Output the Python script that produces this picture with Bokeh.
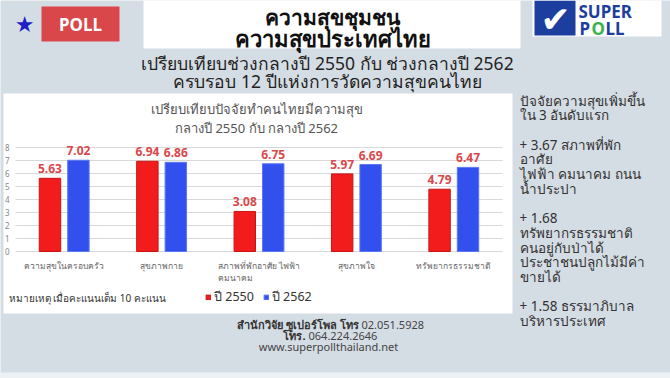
from bokeh.plotting import figure
from bokeh.models import (ColumnDataSource, Label, LabelSet, BoxAnnotation, Legend,
                          LegendItem, Range1d)
from bokeh.transform import dodge
from bokeh.core.properties import value
from bokeh.embed import file_html
from bokeh.resources import INLINE

# ---------------- data ----------------
categories = ["ความสุขในครอบครัว", "สุขภาพกาย", "สภาพที่พักอาศัย ไฟฟ้า\nคมนาคม",
              "สุขภาพใจ", "ทรัพยากรธรรมชาติ"]
score_2550 = [5.63, 6.94, 3.08, 5.97, 4.79]
score_2562 = [7.02, 6.86, 6.75, 6.69, 6.47]
series_names = ["ปี 2550", "ปี 2562"]
y_ticks = [0, 1, 2, 3, 4, 5, 6, 7, 8]

header_lines = ["ความสุขชุมชน", "ความสุขประเทศไทย"]
subtitle_lines = ["เปรียบเทียบช่วงกลางปี 2550 กับ ช่วงกลางปี 2562",
                  "ครบรอบ 12 ปีแห่งการวัดความสุขคนไทย"]
chart_title_lines = ["เปรียบเทียบปัจจัยทำคนไทยมีความสุข", "กลางปี 2550 กับ กลางปี 2562"]
note_text = "หมายเหตุ เมื่อคะแนนเต็ม 10 คะแนน"
side_lines = ["ปัจจัยความสุขเพิ่มขึ้น", "ใน 3 อันดับแรก", "",
              "+ 3.67 สภาพที่พัก", "อาศัย", "ไฟฟ้า คมนาคม ถนน", "น้ำประปา", "",
              "+ 1.68", "ทรัพยากรธรรมชาติ", "คนอยู่กับป่าได้", "ประชาชนปลูกไม้มีค่า", "ขายได้", "",
              "+ 1.58 ธรรมาภิบาล", "บริหารประเทศ"]

# ---------------- layout ----------------
W, H = 670, 378
FL, FR, FT, FB = 15, 502, 147, 251   # chart plot area in page pixels (top-down)
FONT = "Noto Sans"
RED, BLUE = "#f21c1c", "#3150ee"
n = len(categories)
ymax = y_ticks[-1]
ux = (FR - FL) / n
uy = (FB - FT) / ymax

p = figure(width=W, height=H,
           x_range=Range1d(-FL / ux, n + (W - FR) / ux),
           y_range=Range1d(-(H - FB) / uy, ymax + FT / uy),
           output_backend="svg", toolbar_location=None,
           min_border=0, x_axis_type=None, y_axis_type=None)
p.border_fill_color = "#d5dde4"
p.background_fill_color = "#d5dde4"
p.outline_line_color = None
p.grid.visible = False


def sx(X):
    return X


def sy(Y):
    return H - Y


def box(l, r, t, b, color, level="image"):
    p.add_layout(BoxAnnotation(left=sx(l), right=sx(r), top=sy(t), bottom=sy(b),
                               left_units="screen", right_units="screen",
                               top_units="screen", bottom_units="screen",
                               fill_color=color, fill_alpha=1, line_color=None,
                               level=level))


def lab(X, Y, text, size, color="#222", align="center", style="normal", font=FONT):
    p.add_layout(Label(x=sx(X), y=sy(Y), x_units="screen", y_units="screen", text=text,
                       text_align=align, text_baseline="middle", text_font=font,
                       text_font_size=f"{size}px", text_color=color, text_font_style=style))


# background panels
box(-5, 700, 372, 400, "#eef1f3")
box(3, 512, 93, 313, "white")
box(143, 520, -5, 48, "white")
box(41, 119, 6, 41, "#d9474b")
box(532, 661, -2, 36, "white")
box(534, 575, 0, 35, "#1c3e9e")

# chart data source
xpos = [i + 0.5 for i in range(n)]
src = ColumnDataSource(dict(x=xpos, cat=categories, a=score_2550, b=score_2562,
                            la=["%.2f" % v for v in score_2550],
                            lb=["%.2f" % v for v in score_2562]))
tick_src = ColumnDataSource(dict(y=y_ticks, t=[str(t) for t in y_ticks],
                                 x0=[0] * len(y_ticks), x1=[n] * len(y_ticks)))

# grid lines
p.segment(x0="x0", x1="x1", y0="y", y1="y", source=tick_src, line_color="#d9d9d9",
          line_width=1)

# bars
off = 0.146
r1 = p.vbar(x=dodge("x", -off), top="a", width=0.22, source=src,
            fill_color=RED, line_color="#c81414")
r2 = p.vbar(x=dodge("x", off), top="b", width=0.22, source=src,
            fill_color=BLUE, line_color="#5b78f2")

for col, ycol, o in (("la", "a", -off), ("lb", "b", off)):
    p.add_layout(LabelSet(x=dodge("x", o), y=ycol, text=col, source=src,
                          y_offset=5, text_align="center", text_baseline="bottom",
                          text_font=value(FONT), text_font_size="12px",
                          text_font_style="bold", text_color="#d8484c"))

# y tick labels
p.add_layout(LabelSet(x="x0", y="y", text="t", source=tick_src, x_offset=-6,
                      text_align="right", text_baseline="middle",
                      text_font=value(FONT), text_font_size="8px", text_color="#888"))
# category labels
p.add_layout(LabelSet(x="x", y=0, text="cat", source=src, y_offset=-8,
                      text_align="center", text_baseline="top", text_line_height=1.15,
                      text_font=value(FONT), text_font_size="8.5px", text_color="#666"))

# legend
legend = Legend(items=[LegendItem(label=series_names[0], renderers=[r1]),
                       LegendItem(label=series_names[1], renderers=[r2])],
                orientation="horizontal", location=(sx(205), sy(307)),
                glyph_width=6, glyph_height=6, label_text_font_size="12.5px",
                label_text_font=FONT, label_text_color="#333", padding=0, spacing=9,
                label_standoff=3, background_fill_alpha=0, border_line_alpha=0, margin=0)
p.add_layout(legend)

# texts
lab(24, 24, "★", 22, "#1f1fc4", font="DejaVu Sans")
lab(80, 24, "POLL", 17, "white", style="bold")
lab(555, 19, "✔", 36, "white", font="DejaVu Sans")
lab(578, 11, "SUPER", 17, "#1c3e9e", align="left", style="bold")
lab(579, 28, "P", 17, "#1c3e9e", align="left", style="bold")
lab(591, 28, "O", 17, "#3bb34a", align="left", style="bold")
lab(605, 28, "LL", 17, "#1c3e9e", align="left", style="bold")

lab(332, 16, header_lines[0], 21, "#111", style="bold")
lab(332, 37, header_lines[1], 22, "#111", style="bold")
lab(327, 62, subtitle_lines[0], 17.5, "#222")
lab(327, 80, subtitle_lines[1], 17.5, "#222")
lab(256, 108, chart_title_lines[0], 13, "#555")
lab(256, 127, chart_title_lines[1], 13, "#555")
lab(8, 297, note_text, 10, "#333", align="left")

lab(358, 324, "สำนักวิจัย ซูเปอร์โพล โทร", 11, "#333", align="right", style="bold")
lab(361, 324, "02.051.5928", 11, "#444", align="left")
lab(305, 335, "โทร.", 11, "#333", align="right", style="bold")
lab(308, 335, "064.224.2646", 11, "#444", align="left")
lab(328, 346, "www.superpollthailand.net", 11, "#444")

y0, dy = 100, 14.7
for i, t in enumerate(side_lines):
    if t:
        lab(519, y0 + i * dy, t, 13.5, "#333", align="left")

open("out.html", "w").write(file_html(p, INLINE))
